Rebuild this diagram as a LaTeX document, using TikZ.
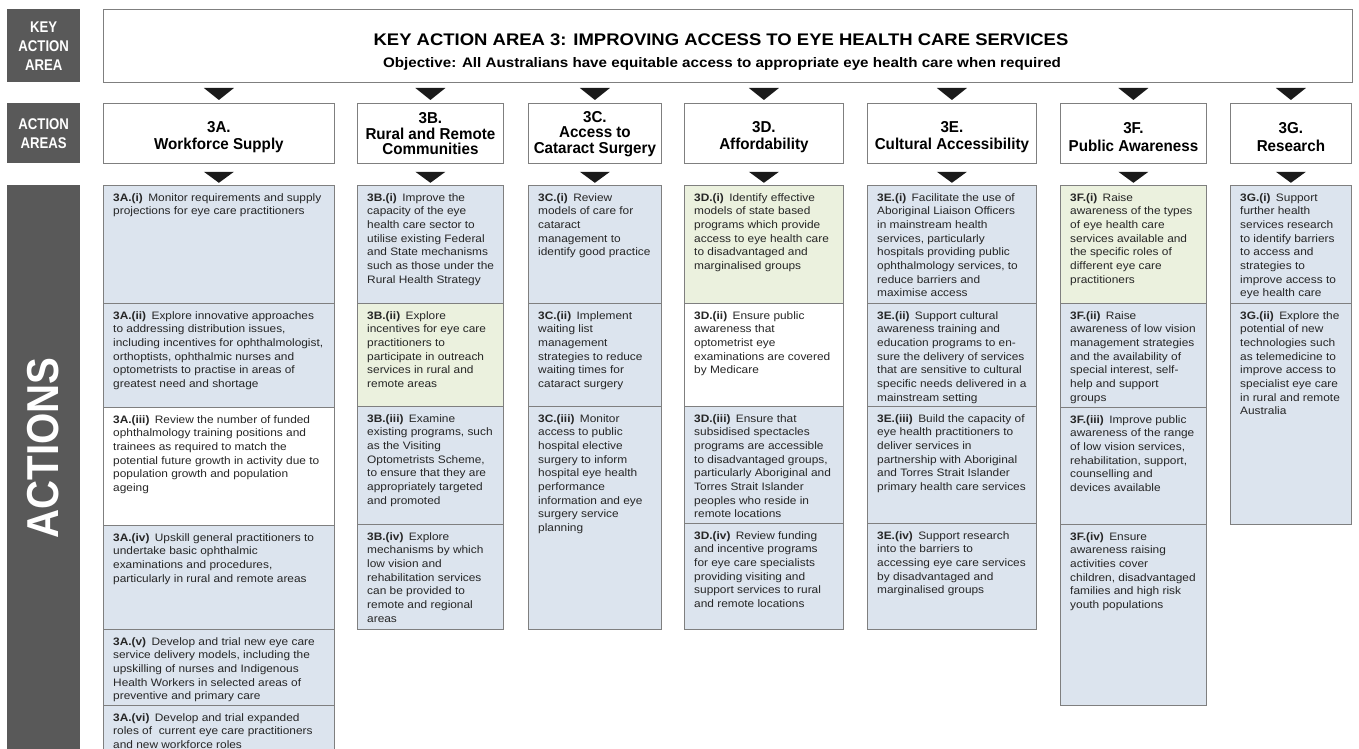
\documentclass[tikz,border=0pt]{standalone}
\usepackage{fontspec}
\setmainfont{Liberation Sans}
\newfontfamily\stfont[FakeStretch=1.1]{Liberation Sans}
\newfontfamily\hdfont[FakeStretch=0.96]{Liberation Sans}
\newfontfamily\lbfont[FakeStretch=0.85]{Liberation Sans}
\newfontfamily\narfont[FakeStretch=0.9]{Liberation Sans}
\definecolor{labgray}{HTML}{595959}
\definecolor{bluef}{HTML}{DCE4EE}
\definecolor{greenf}{HTML}{EBF1DE}
\definecolor{bord}{HTML}{7F7F7F}
\definecolor{txt}{HTML}{262626}
\definecolor{arrc}{HTML}{1A1A1A}
\tikzset{
  darklab/.style={fill=labgray, draw=none, text=white, align=center, inner sep=0pt, anchor=north west,
    font=\lbfont\bfseries\fontsize{15.5}{19}\selectfont},
  hbox/.style={draw=bord, fill=white, line width=0.8pt, anchor=north west, inner sep=0pt, minimum height=60},
  htext/.style={align=center, inner sep=0pt, text=black, font=\hdfont\bfseries\fontsize{15.8}{15.5}\selectfont},
  abox/.style={draw=bord, line width=1pt, anchor=north west, inner sep=0pt},
  btext/.style={anchor=north west, inner sep=0pt, align=left, text=txt, font=\stfont\fontsize{10.8}{13.7}\selectfont},
  tri/.style={fill=arrc, draw=none}
}
\newcommand\actbx[7]{%
  \node[abox, fill=#6, minimum width=#4, minimum height=#5] (#1) at (#2,#3) {};
  \node[btext] (#1t) at ([xshift=10pt,yshift=-8pt]#1.north west) {#7};}
\newcommand\hdrbx[6]{% name, x, w, text, yshift
  \node[hbox, minimum width=#3] (#1) at (#2,103) {};
  \node[htext] (#1t) at ([yshift=#5]#1.center) {#4};
  \fill[tri] ([xshift=-15pt,yshift=15pt]#1.north) -- ([xshift=15pt,yshift=15pt]#1.north) -- ([yshift=3pt]#1.north) -- cycle;
  \fill[tri] ([xshift=-15pt,yshift=-8pt]#1.south) -- ([xshift=15pt,yshift=-8pt]#1.south) -- ([yshift=-19pt]#1.south) -- cycle;}
\newcommand\lb[1]{\textbf{#1}\enspace}
\begin{document}
\begin{tikzpicture}[x=1pt,y=-1pt]
\useasboundingbox (0,0) rectangle (1359,749);
\fill[white] (0,0) rectangle (1359,749);
% left labels
\node[darklab, minimum width=73, minimum height=73] (lkey) at (7,9) {KEY\\ACTION\\AREA};
\node[darklab, minimum width=73, minimum height=60] (laa) at (7,103) {ACTION\\AREAS};
\node[darklab, minimum width=73, minimum height=567] (lact) at (7,185) {};
\node[rotate=90, text=white, inner sep=0pt, font=\narfont\bfseries\fontsize{44.7}{50}\selectfont] (lactt) at (43,448) {ACTIONS};
% title
\node[hbox, minimum width=1249, minimum height=73] (title) at (103,9) {};
\node[anchor=base, inner sep=0pt, font=\stfont\bfseries\fontsize{16.8}{20}\selectfont] (titlet) at (721,46) {KEY ACTION AREA 3: IMPROVING ACCESS TO EYE HEALTH CARE SERVICES};
\node[anchor=base, inner sep=0pt, font=\stfont\bfseries\fontsize{13.8}{16}\selectfont] (subt) at (722,68) {Objective: All Australians have equitable access to appropriate eye health care when required};
% headers
\hdrbx{hA}{103}{231}{3A.\\[2pt]Workforce Supply}{-3.5pt}{}
\hdrbx{hB}{357}{146}{3B.\\Rural and Remote\\Communities}{-0.5pt}{}
\hdrbx{hC}{528}{133}{3C.\\Access to\\Cataract Surgery}{-0.5pt}{}
\hdrbx{hD}{684}{159}{3D.\\[2pt]Affordability}{-3.5pt}{}
\hdrbx{hE}{867}{169}{3E.\\[2pt]Cultural Accessibility}{-3.5pt}{}
\hdrbx{hF}{1060}{146}{3F.\\[2pt]Public Awareness}{-3.5pt}{}
\hdrbx{hG}{1230}{121}{3G.\\[2pt]Research}{-3.5pt}{}
% 3A
\actbx{a1}{103}{185}{231}{118}{bluef}{\lb{3A.(i)}Monitor requirements and supply\\projections for eye care practitioners}
\actbx{a2}{103}{303}{231}{104}{bluef}{\lb{3A.(ii)}Explore innovative approaches\\to addressing distribution issues,\\including incentives for ophthalmologist,\\orthoptists, ophthalmic nurses and\\optometrists to practise in areas of\\greatest need and shortage}
\actbx{a3}{103}{407}{231}{118}{white}{\lb{3A.(iii)}Review the number of funded\\ophthalmology training positions and\\trainees as required to match the\\potential future growth in activity due to\\population growth and population\\ageing}
\actbx{a4}{103}{525}{231}{104}{bluef}{\lb{3A.(iv)}Upskill general practitioners to\\undertake basic ophthalmic\\examinations and procedures,\\particularly in rural and remote areas}
\actbx{a5}{103}{629}{231}{76}{bluef}{\lb{3A.(v)}Develop and trial new eye care\\service delivery models, including the\\upskilling of nurses and Indigenous\\Health Workers in selected areas of\\preventive and primary care}
\actbx{a6}{103}{705}{231}{50}{bluef}{\lb{3A.(vi)}Develop and trial expanded\\roles of\ \ current eye care practitioners\\and new workforce roles}
% 3B
\actbx{b1}{357}{185}{146}{118}{bluef}{\lb{3B.(i)}Improve the\\capacity of the eye\\health care sector to\\utilise existing Federal\\and State mechanisms\\such as those under the\\Rural Health Strategy}
\actbx{b2}{357}{303}{146}{103}{greenf}{\lb{3B.(ii)}Explore\\incentives for eye care\\practitioners to\\participate in outreach\\services in rural and\\remote areas}
\actbx{b3}{357}{406}{146}{118}{bluef}{\lb{3B.(iii)}Examine\\existing programs, such\\as the Visiting\\Optometrists Scheme,\\to ensure that they are\\appropriately targeted\\and promoted}
\actbx{b4}{357}{524}{146}{105}{bluef}{\lb{3B.(iv)}Explore\\mechanisms by which\\low vision and\\rehabilitation services\\can be provided to\\remote and regional\\areas}
% 3C
\actbx{c1}{528}{185}{133}{118}{bluef}{\lb{3C.(i)}Review\\models of care for\\cataract\\management to\\identify good practice}
\actbx{c2}{528}{303}{133}{103}{bluef}{\lb{3C.(ii)}Implement\\waiting list\\management\\strategies to reduce\\waiting times for\\cataract surgery}
\actbx{c3}{528}{406}{133}{223}{bluef}{\lb{3C.(iii)}Monitor\\access to public\\hospital elective\\surgery to inform\\hospital eye health\\performance\\information and eye\\surgery service\\planning}
% 3D
\actbx{d1}{684}{185}{159}{118}{greenf}{\lb{3D.(i)}Identify effective\\models of state based\\programs which provide\\access to eye health care\\to disadvantaged and\\marginalised groups}
\actbx{d2}{684}{303}{159}{103}{white}{\lb{3D.(ii)}Ensure public\\awareness that\\optometrist eye\\examinations are covered\\by Medicare}
\actbx{d3}{684}{406}{159}{117}{bluef}{\lb{3D.(iii)}Ensure that\\subsidised spectacles\\programs are accessible\\to disadvantaged groups,\\particularly Aboriginal and\\Torres Strait Islander\\peoples who reside in\\remote locations}
\actbx{d4}{684}{523}{159}{106}{bluef}{\lb{3D.(iv)}Review funding\\and incentive programs\\for eye care specialists\\providing visiting and\\support services to rural\\and remote locations}
% 3E
\actbx{e1}{867}{185}{169}{118}{bluef}{\lb{3E.(i)}Facilitate the use of\\Aboriginal Liaison Officers\\in mainstream health\\services, particularly\\hospitals providing public\\ophthalmology services, to\\reduce barriers and\\maximise access}
\actbx{e2}{867}{303}{169}{103}{bluef}{\lb{3E.(ii)}Support cultural\\awareness training and\\education programs to en-\\sure the delivery of services\\that are sensitive to cultural\\specific needs delivered in a\\mainstream setting}
\actbx{e3}{867}{406}{169}{117}{bluef}{\lb{3E.(iii)}Build the capacity of\\eye health practitioners to\\deliver services in\\partnership with Aboriginal\\and Torres Strait Islander\\primary health care services}
\actbx{e4}{867}{523}{169}{106}{bluef}{\lb{3E.(iv)}Support research\\into the barriers to\\accessing eye care services\\by disadvantaged and\\marginalised groups}
% 3F
\actbx{f1}{1060}{185}{146}{118}{greenf}{\lb{3F.(i)}Raise\\awareness of the types\\of eye health care\\services available and\\the specific roles of\\different eye care\\practitioners}
\actbx{f2}{1060}{303}{146}{104}{bluef}{\lb{3F.(ii)}Raise\\awareness of low vision\\management strategies\\and the availability of\\special interest, self-\\help and support\\groups}
\actbx{f3}{1060}{407}{146}{117}{bluef}{\lb{3F.(iii)}Improve public\\awareness of the range\\of low vision services,\\rehabilitation, support,\\counselling and\\devices available}
\actbx{f4}{1060}{524}{146}{181}{bluef}{\lb{3F.(iv)}Ensure\\awareness raising\\activities cover\\children, disadvantaged\\families and high risk\\youth populations}
% 3G
\actbx{g1}{1230}{185}{121}{118}{bluef}{\lb{3G.(i)}Support\\further health\\services research\\to identify barriers\\to access and\\strategies to\\improve access to\\eye health care}
\actbx{g2}{1230}{303}{121}{221}{bluef}{\lb{3G.(ii)}Explore the\\potential of new\\technologies such\\as telemedicine to\\improve access to\\specialist eye care\\in rural and remote\\Australia}
\end{tikzpicture}
\end{document}
